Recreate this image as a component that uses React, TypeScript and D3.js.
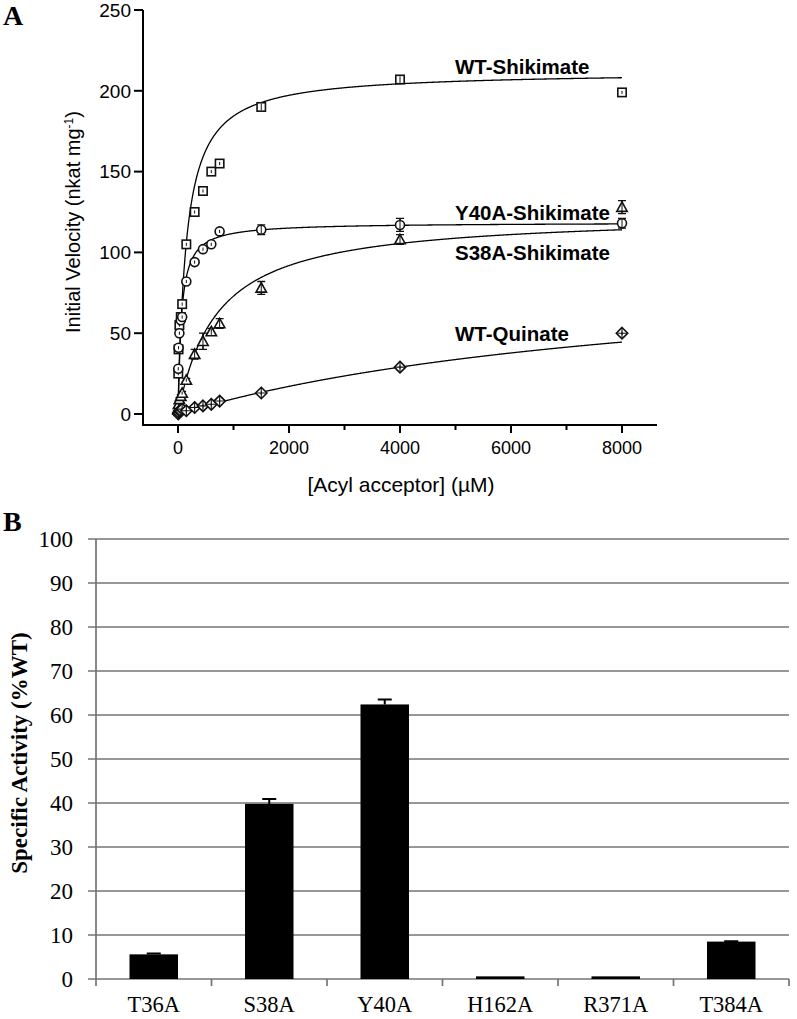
import React from "react";
import * as d3 from "d3";

// ---------- Panel A data ----------
const concentrations = [5, 10, 25, 50, 75, 150, 300, 450, 600, 750, 1500, 4000, 8000];
const wtShikimate = [25, 40, 55, 60, 68, 105, 125, 138, 150, 155, 190, 207, 199];
const wtShikimateErr = [1, 1, 1, 1, 1, 1, 1, 1, 1, 1, 2, 2, 1];
const y40aShikimate = [28, 41, 50, 58, 60, 82, 94, 102, 105, 113, 114, 117, 118];
const y40aShikimateErr = [1, 1, 1, 1, 1, 1, 1, 1, 1, 1, 3, 4, 3];
const s38aShikimate = [3, 6, 9, 11, 13, 21, 37, 45, 51, 56, 78, 108, 128];
const s38aShikimateErr = [1, 1, 1, 1, 1, 1, 3, 5, 2, 3, 4, 3, 4];
const wtQuinate = [0, 1, 2, 2, 3, 2, 4, 5, 6, 8, 13, 29, 50];
const wtQuinateErr = [1, 1, 1, 1, 1, 1, 1, 1, 1, 1, 1, 1, 1];
// Michaelis-Menten fits [Vmax, Km]
const fitWtShikimate = [212, 150];
const fitY40a = [118.5, 60];
const fitS38a = [124, 700];
const fitWtQuinate = [95.5, 9170];
const seriesLabels = ["WT-Shikimate", "Y40A-Shikimate", "S38A-Shikimate", "WT-Quinate"];
const xTicksA = [0, 2000, 4000, 6000, 8000];
const xMinorTicksA = [1000, 3000, 5000, 7000];
const yTicksA = [0, 50, 100, 150, 200, 250];

// ---------- Panel B data ----------
const mutants = ["T36A", "S38A", "Y40A", "H162A", "R371A", "T384A"];
const activity = [5.6, 39.8, 62.4, 0.6, 0.6, 8.5];
const activityErr = [0.2, 1.1, 1.1, 0, 0, 0.1];
const yTicksB = [0, 10, 20, 30, 40, 50, 60, 70, 80, 90, 100];

const SANS = "'Liberation Sans', Arial, sans-serif";
const SERIF = "'Liberation Serif', 'Times New Roman', serif";

function Marker({ kind, x, y }: { kind: string; x: number; y: number }) {
  const s = 4.2;
  const common = { fill: "white", stroke: "#111", strokeWidth: 1.6 };
  if (kind === "square") return <rect x={x - s} y={y - s} width={2 * s} height={2 * s} {...common} />;
  if (kind === "circle") return <circle cx={x} cy={y} r={s + 0.3} {...common} />;
  if (kind === "triangle")
    return <path d={`M${x},${y - s - 1}L${x + s + 1},${y + s}L${x - s - 1},${y + s}Z`} {...common} />;
  return (
    <g>
      <path d={`M${x},${y - s - 1.5}L${x + s + 1.5},${y}L${x},${y + s + 1.5}L${x - s - 1.5},${y}Z`} {...common} />
      <path d={`M${x - s - 1.5},${y}H${x + s + 1.5}M${x},${y - s - 1.5}V${y + s + 1.5}`} stroke="#111" strokeWidth={1.1} />
    </g>
  );
}

export default function App() {
  // Panel A scales
  const xA = d3.scaleLinear().domain([0, 8000]).range([178, 622]);
  const yA = d3.scaleLinear().domain([0, 250]).range([414, 10]);
  const axisA_y = 425;
  const axisA_x = 143;
  const xAend = 657;

  const fitCurve = (p: number[]) => {
    const pts = d3.range(0, 8001, 10).map((s) => [s, (p[0] * s) / (p[1] + s)] as [number, number]);
    return d3.line<[number, number]>().x((d) => xA(d[0])).y((d) => yA(d[1]))(pts) || "";
  };

  const series = [
    { vals: wtShikimate, err: wtShikimateErr, fit: fitWtShikimate, kind: "square" },
    { vals: y40aShikimate, err: y40aShikimateErr, fit: fitY40a, kind: "circle" },
    { vals: s38aShikimate, err: s38aShikimateErr, fit: fitS38a, kind: "triangle" },
    { vals: wtQuinate, err: wtQuinateErr, fit: fitWtQuinate, kind: "diamond" },
  ];
  const labelPos = [
    { x: 455, y: 74 },
    { x: 455, y: 220 },
    { x: 455, y: 260 },
    { x: 455, y: 341 },
  ];

  // Panel B scales
  const xB = d3.scaleBand().domain(mutants).range([96, 789]).paddingInner(0.58).paddingOuter(0.29);
  const xBoundary = d3.scaleLinear().domain([0, mutants.length]).range([96, 789]);
  const yB = d3.scaleLinear().domain([0, 100]).range([979, 539]);

  return (
    <svg width={797} height={1019} style={{ position: "absolute", left: 0, top: 0, background: "white" }}>
      <rect width={797} height={1019} fill="white" />
      {/* ================= Panel A ================= */}
      <text x={3} y={25} fontFamily={SERIF} fontWeight="bold" fontSize={28}>A</text>
      {/* axes */}
      <line x1={axisA_x} x2={axisA_x} y1={yA(250)} y2={axisA_y + 1} stroke="#000" strokeWidth={2} />
      <line x1={axisA_x - 1} x2={xAend} y1={axisA_y} y2={axisA_y} stroke="#000" strokeWidth={2} />
      {yTicksA.map((t) => (
        <g key={"ya" + t}>
          <line x1={axisA_x - 9} x2={axisA_x} y1={yA(t)} y2={yA(t)} stroke="#000" strokeWidth={2} />
          <text x={axisA_x - 12} y={yA(t)} dy="0.36em" textAnchor="end" fontFamily={SANS} fontSize={19}>{t}</text>
        </g>
      ))}
      {xTicksA.map((t) => (
        <g key={"xa" + t}>
          <line x1={xA(t)} x2={xA(t)} y1={axisA_y} y2={axisA_y + 8} stroke="#000" strokeWidth={2} />
          <text x={xA(t)} y={axisA_y + 29} textAnchor="middle" fontFamily={SANS} fontSize={18}>{t}</text>
        </g>
      ))}
      {xMinorTicksA.map((t) => (
        <line key={"xm" + t} x1={xA(t)} x2={xA(t)} y1={axisA_y} y2={axisA_y + 5} stroke="#000" strokeWidth={2} />
      ))}
      <text x={401} y={492} textAnchor="middle" fontFamily={SANS} fontSize={21}>[Acyl acceptor] (µM)</text>
      <text transform={`translate(${80},${222}) rotate(-90)`} textAnchor="middle" fontFamily={SANS} fontSize={20}>
        Initial Velocity (nkat mg
        <tspan dy={-7} fontSize={12}>-1</tspan>
        <tspan dy={7}>)</tspan>
      </text>
      {/* curves */}
      {series.map((s, i) => (
        <path key={"fit" + i} d={fitCurve(s.fit)} fill="none" stroke="#000" strokeWidth={1.3} />
      ))}
      {/* points with error bars */}
      {series.map((s, i) => (
        <g key={"pts" + i}>
          {s.vals.map((v, j) => {
            const cx = xA(concentrations[j]);
            const cy = yA(v);
            const e = s.err[j];
            return (
              <g key={j}>
                <path
                  d={`M${cx},${yA(v - e)}V${yA(v + e)}M${cx - 4},${yA(v + e)}H${cx + 4}M${cx - 4},${yA(v - e)}H${cx + 4}`}
                  stroke="#111"
                  strokeWidth={1.3}
                  fill="none"
                />
                <Marker kind={s.kind} x={cx} y={cy} />
                <path d={`M${cx},${yA(v - e)}V${yA(v + e)}`} stroke="#111" strokeWidth={1} />
              </g>
            );
          })}
        </g>
      ))}
      {seriesLabels.map((l, i) => (
        <text key={l} x={labelPos[i].x} y={labelPos[i].y} fontFamily={SANS} fontWeight="bold" fontSize={20.5}>{l}</text>
      ))}

      {/* ================= Panel B ================= */}
      <text x={3} y={531} fontFamily={SERIF} fontWeight="bold" fontSize={28}>B</text>
      {yTicksB.map((t) => (
        <g key={"yb" + t}>
          <line x1={88} x2={789} y1={yB(t)} y2={yB(t)} stroke="#747474" strokeWidth={1.7} />
          <text x={73} y={yB(t)} dy="0.33em" textAnchor="end" fontFamily={SERIF} fontSize={23}>{t}</text>
        </g>
      ))}
      <line x1={96} x2={96} y1={yB(100)} y2={yB(0) + 7} stroke="#747474" strokeWidth={1.7} />
      {d3.range(1, mutants.length + 1).map((i) => (
        <line key={"xb" + i} x1={xBoundary(i)} x2={xBoundary(i)} y1={yB(0)} y2={yB(0) + 7} stroke="#747474" strokeWidth={1.7} />
      ))}
      {mutants.map((m, i) => (
        <g key={m}>
          <rect x={xB(m)} y={yB(activity[i])} width={xB.bandwidth()} height={yB(0) - yB(activity[i])} fill="#000" />
          {activityErr[i] > 0 && (
            <path
              d={`M${(xB(m) as number) + xB.bandwidth() / 2},${yB(activity[i])}V${yB(activity[i] + activityErr[i])}M${(xB(m) as number) + xB.bandwidth() / 2 - 7},${yB(activity[i] + activityErr[i])}H${(xB(m) as number) + xB.bandwidth() / 2 + 7}`}
              stroke="#000"
              strokeWidth={2}
            />
          )}
          <text x={(xB(m) as number) + xB.bandwidth() / 2} y={1012} textAnchor="middle" fontFamily={SERIF} fontSize={22.5}>{m}</text>
        </g>
      ))}
      <text transform={`translate(${27},${753}) rotate(-90)`} textAnchor="middle" fontFamily={SERIF} fontWeight="bold" fontSize={23}>
        Specific Activity (%WT)
      </text>
    </svg>
  );
}
